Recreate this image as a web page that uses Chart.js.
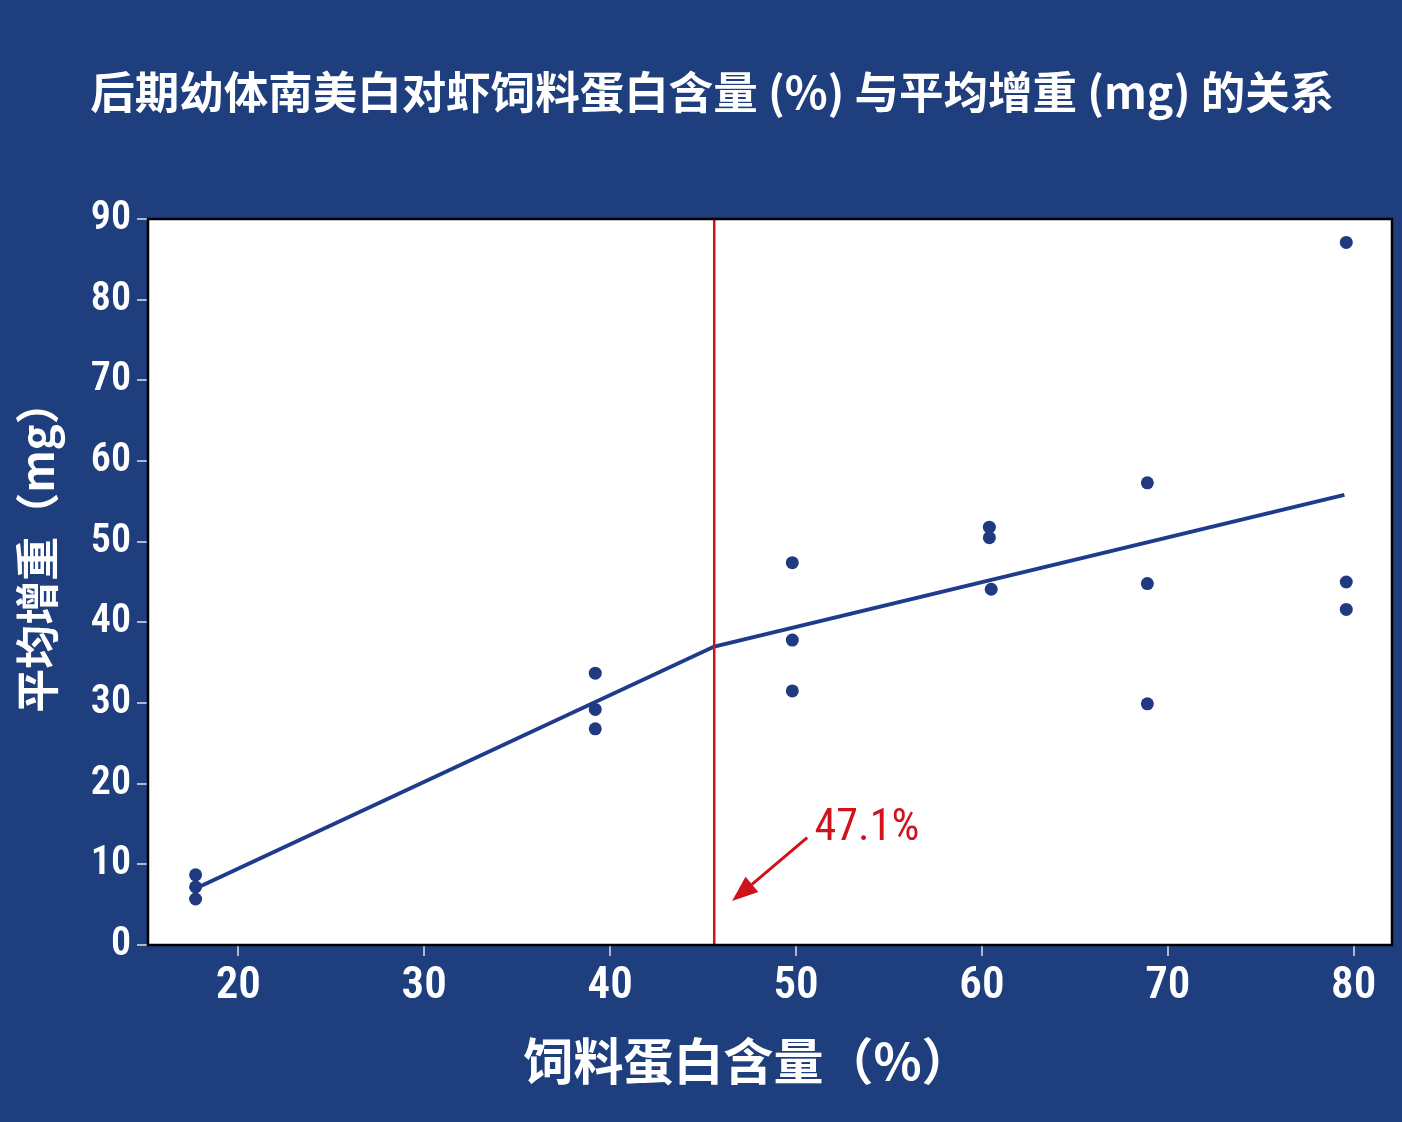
<!DOCTYPE html>
<html><head><meta charset="utf-8">
<script src="https://cdn.jsdelivr.net/npm/chart.js@4.4.1/dist/chart.umd.min.js"></script>
<style>html,body{margin:0;padding:0;background:#1e3e7d;overflow:hidden}</style>
</head><body>
<canvas id="c" width="1402" height="1122"></canvas>
<script>
// ---- data ----
const proteinX   = [17.7, 17.7, 17.7, 39.2, 39.2, 39.2, 49.8, 49.8, 49.8, 60.4, 60.4, 60.5, 68.9, 68.9, 68.9, 79.6, 79.6, 79.6];
const weightGain = [8.7, 7.2, 5.7, 33.7, 29.2, 26.8, 47.4, 37.8, 31.5, 51.8, 50.5, 44.1, 57.3, 44.8, 29.9, 87.1, 45.0, 41.6];
const fitX = [17.7, 45.6, 79.5];
const fitY = [7.0, 37.0, 55.8];
const breakpointX = 45.6;
const breakpointLabel = '47.1%';
const xTicks = [20, 30, 40, 50, 60, 70, 80];
const yTicks = [0, 10, 20, 30, 40, 50, 60, 70, 80, 90];
const titleText = '后期幼体南美白对虾饲料蛋白含量 (%) 与平均增重 (mg) 的关系';
const xTitle = '饲料蛋白含量（%）';
const yTitle = '平均增重（mg）';

// annotation anchor (data units)
const arrowFrom = {x: 50.6, y: 13.3};
const arrowTo   = {x: 46.56, y: 5.45};
const labelAt   = {x: 51.0, y: 13.0};

const BG = '#1e3e7d';
const DOT = '#1f3a80';
const LINE = '#1f3b8c';
const RED = '#d0121b';
const NARROW = '"Roboto Condensed", "Open Sans", "Noto Sans", sans-serif';
const CJK = '"Noto Sans CJK SC", "Noto Sans", sans-serif';

function drawInk(ctx, text, cx, cy) {
  ctx.textAlign = 'left';
  ctx.textBaseline = 'alphabetic';
  const m = ctx.measureText(text);
  const w = m.actualBoundingBoxLeft + m.actualBoundingBoxRight;
  const h = m.actualBoundingBoxAscent + m.actualBoundingBoxDescent;
  ctx.fillText(text, cx - w / 2 + m.actualBoundingBoxLeft, cy - h / 2 + m.actualBoundingBoxAscent);
}

const deco = {
  id: 'deco',
  beforeDraw(chart) {
    const {ctx, chartArea: a} = chart;
    ctx.save();
    ctx.fillStyle = BG;
    ctx.fillRect(0, 0, chart.width, chart.height);
    ctx.fillStyle = '#ffffff';
    ctx.fillRect(a.left, a.top, a.right - a.left, a.bottom - a.top);
    ctx.restore();
  },
  afterDatasetsDraw(chart) {
    const {ctx, chartArea: a, scales: {x, y}} = chart;
    ctx.save();
    const bx = x.getPixelForValue(breakpointX);
    ctx.strokeStyle = RED;
    ctx.lineWidth = 2.5;
    ctx.beginPath();
    ctx.moveTo(bx, a.top);
    ctx.lineTo(bx, a.bottom);
    ctx.stroke();
    const x0 = x.getPixelForValue(arrowFrom.x), y0 = y.getPixelForValue(arrowFrom.y);
    const x1 = x.getPixelForValue(arrowTo.x), y1 = y.getPixelForValue(arrowTo.y);
    const ang = Math.atan2(y1 - y0, x1 - x0);
    const hl = 26, hw = 10;
    const bxh = x1 - hl * Math.cos(ang), byh = y1 - hl * Math.sin(ang);
    ctx.lineWidth = 3;
    ctx.beginPath();
    ctx.moveTo(x0, y0);
    ctx.lineTo(bxh, byh);
    ctx.stroke();
    ctx.fillStyle = RED;
    ctx.beginPath();
    ctx.moveTo(x1, y1);
    ctx.lineTo(bxh + hw * Math.sin(ang), byh - hw * Math.cos(ang));
    ctx.lineTo(bxh - hw * Math.sin(ang), byh + hw * Math.cos(ang));
    ctx.closePath();
    ctx.fill();
    ctx.font = 'normal condensed 44px ' + NARROW;
    ctx.textAlign = 'left';
    ctx.textBaseline = 'alphabetic';
    ctx.fillText(breakpointLabel, x.getPixelForValue(labelAt.x), y.getPixelForValue(labelAt.y));
    ctx.strokeStyle = '#000000';
    ctx.lineWidth = 2.5;
    ctx.strokeRect(a.left, a.top, a.right - a.left, a.bottom - a.top);
    ctx.restore();
  },
  afterDraw(chart) {
    const {ctx} = chart;
    ctx.save();
    ctx.fillStyle = '#ffffff';
    ctx.font = 'bold 44.5px ' + CJK;
    drawInk(ctx, titleText, 711.5, 95);
    ctx.font = 'bold 50px ' + CJK;
    drawInk(ctx, xTitle, 731, 1061);
    ctx.translate(40, 560);
    ctx.rotate(-Math.PI / 2);
    ctx.font = 'bold 44px ' + CJK;
    drawInk(ctx, yTitle, 0, 0);
    ctx.restore();
  }
};

new Chart(document.getElementById('c'), {
  data: {
    datasets: [
      {
        type: 'line',
        data: fitX.map((v, i) => ({x: v, y: fitY[i]})),
        borderColor: LINE,
        borderWidth: 4,
        pointRadius: 0,
        fill: false,
        tension: 0,
        order: 2
      },
      {
        type: 'scatter',
        data: proteinX.map((v, i) => ({x: v, y: weightGain[i]})),
        backgroundColor: DOT,
        borderWidth: 0,
        pointRadius: 6.5,
        pointHoverRadius: 6.5,
        order: 1
      }
    ]
  },
  options: {
    responsive: false,
    devicePixelRatio: 1,
    animation: false,
    events: [],
    layout: {padding: {top: 219, right: 10, left: 0, bottom: 0}},
    plugins: {legend: {display: false}, tooltip: {enabled: false}, title: {display: false}},
    scales: {
      x: {
        type: 'linear',
        min: 15.14,
        max: 82.06,
        afterBuildTicks: s => { s.ticks = xTicks.map(v => ({value: v})); },
        afterFit: s => { s.height = 1122 - 945; },
        grid: {drawOnChartArea: false, drawTicks: true, tickLength: 11, color: '#aeb8cf', lineWidth: 2},
        border: {display: false},
        ticks: {color: '#ffffff', padding: 4, maxRotation: 0, autoSkip: false,
                font: {family: NARROW, size: 45, weight: '600 condensed'}}
      },
      y: {
        type: 'linear',
        min: 0,
        max: 90,
        afterBuildTicks: s => { s.ticks = yTicks.map(v => ({value: v})); },
        afterFit: s => { s.width = 148; },
        grid: {drawOnChartArea: false, drawTicks: true, tickLength: 11, color: '#aeb8cf', lineWidth: 2},
        border: {display: false},
        ticks: {color: '#ffffff', padding: 6, autoSkip: false,
                font: {family: NARROW, size: 40, weight: '600 condensed'}}
      }
    }
  },
  plugins: [deco]
});
</script>
</body></html>
